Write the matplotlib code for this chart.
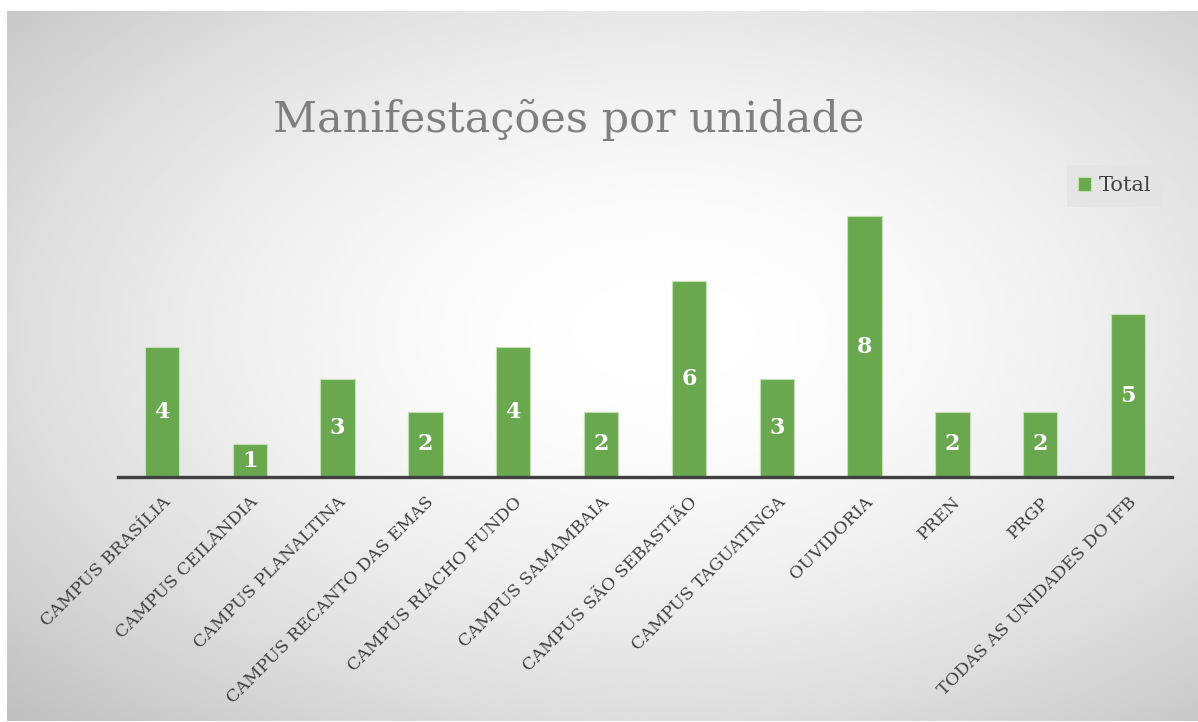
import numpy as np
import matplotlib
matplotlib.use("Agg")
import matplotlib.pyplot as plt

categories = ["CAMPUS BRASÍLIA", "CAMPUS CEILÂNDIA", "CAMPUS PLANALTINA",
              "CAMPUS RECANTO DAS EMAS", "CAMPUS RIACHO FUNDO", "CAMPUS SAMAMBAIA",
              "CAMPUS SÃO SEBASTIÃO", "CAMPUS TAGUATINGA", "OUVIDORIA",
              "PREN", "PRGP", "TODAS AS UNIDADES DO IFB"]
totals = [4, 1, 3, 2, 4, 2, 6, 3, 8, 2, 2, 5]

plt.rcParams['font.family'] = ['DejaVu Serif']

W, H = 1198, 722
fig = plt.figure(figsize=(W / 100, H / 100), dpi=100)
fig.patch.set_facecolor('white')

# radial gradient background (white centre, light grey edges)
bg = fig.add_axes([7 / W, 1 / H, (W - 7) / W, (H - 12) / H])
yy, xx = np.mgrid[0:300, 0:500]
cx, cy = 0.55 * 500, 0.45 * 300
r = np.sqrt(((xx - cx) / 500) ** 2 + ((yy - cy) / 300) ** 2)
shade = np.clip(1 - 0.40 * r ** 1.8, 0, 1)
bg.imshow(shade, cmap='gray', vmin=0, vmax=1, aspect='auto', interpolation='bilinear')
bg.set_axis_off()

ax = fig.add_axes([118 / W, 245 / H, 1054 / W, 293.4 / H])
ax.set_facecolor('none')
x = np.arange(len(categories))
bars = ax.bar(x, totals, width=0.39, color='#6aa84f', edgecolor='#c5e0b4',
              linewidth=0.8, label='Total', zorder=2)
for b, v in zip(bars, totals):
    ax.text(b.get_x() + b.get_width() / 2, v / 2, str(v), ha='center', va='center',
            color='white', fontsize=16, fontweight='bold', zorder=3)

ax.set_xlim(-0.5, len(categories) - 0.5)
ax.set_ylim(0, 9)
ax.set_yticks([])
for s in ['top', 'right', 'left']:
    ax.spines[s].set_visible(False)
ax.spines['bottom'].set_color('#404040')
ax.spines['bottom'].set_linewidth(2.4)
ax.spines['bottom'].set_zorder(4)
ax.set_xticks(x)
ax.set_xticklabels(categories, rotation=45, ha='right', rotation_mode='anchor',
                   fontsize=12.5, color='#404040')
ax.tick_params(axis='x', length=0, pad=12)

fig.text(569 / W, 1 - 120 / H, "Manifestações por unidade", ha='center', va='center',
         fontsize=31, color='#7f7f7f')

leg = ax.legend(loc='upper right', bbox_to_anchor=(1163 / W, 1 - 165 / H),
                bbox_transform=fig.transFigure, fontsize=15, frameon=True,
                handlelength=0.6, handleheight=0.6, handletextpad=0.4,
                borderpad=0.55, borderaxespad=0, fancybox=False)
leg.get_frame().set_facecolor('#e4e4e4')
leg.get_frame().set_edgecolor('none')
for t in leg.get_texts():
    t.set_color('#404040')

fig.savefig('out.png', dpi=100)
